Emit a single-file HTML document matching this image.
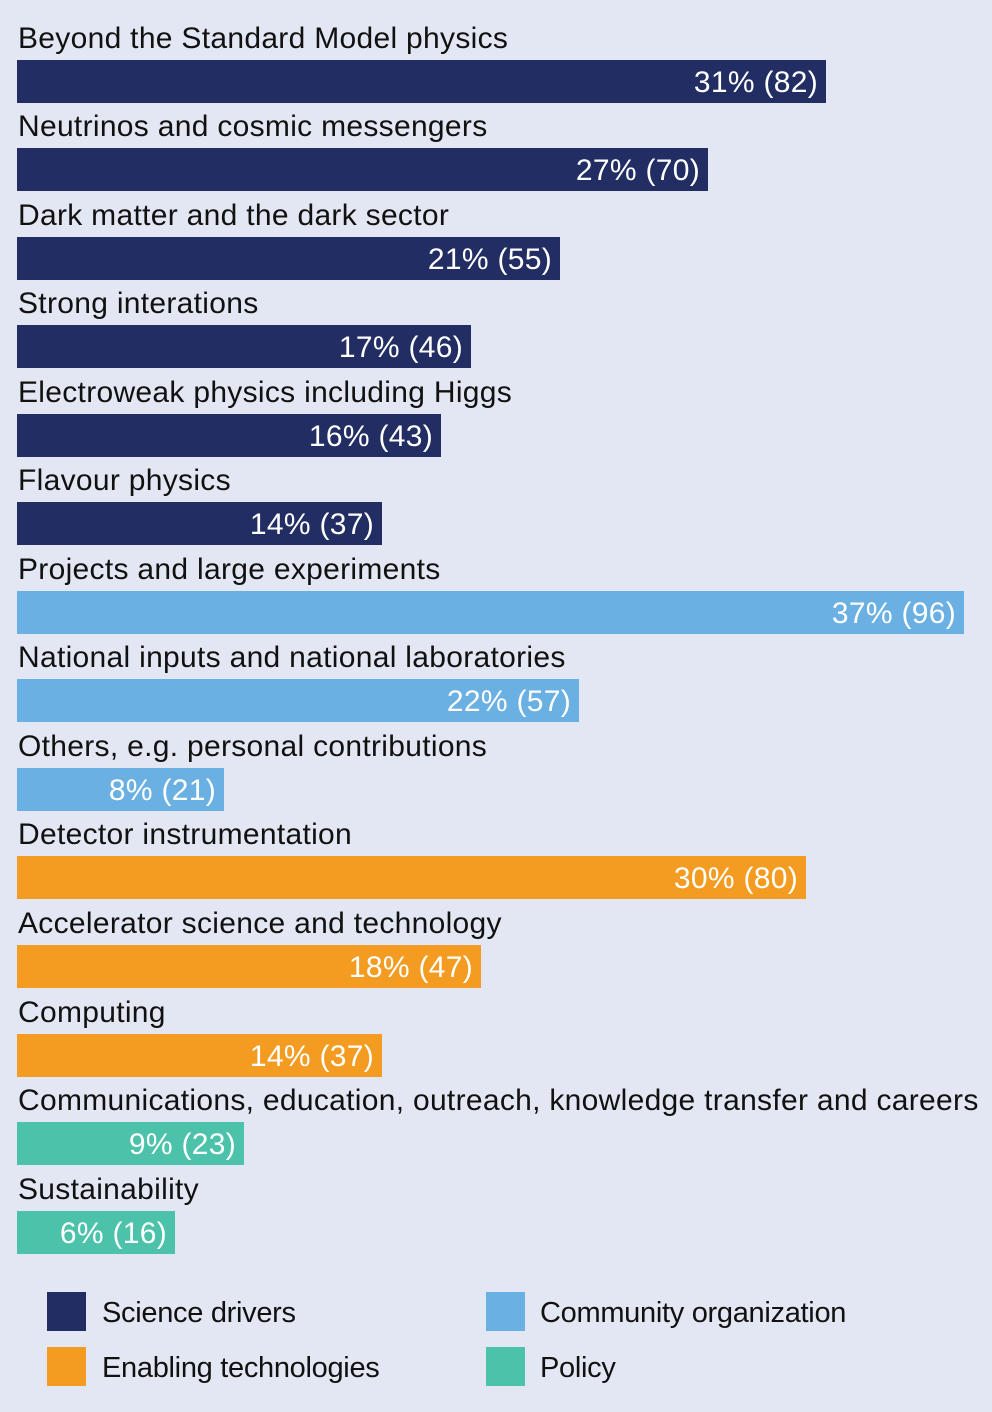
<!DOCTYPE html>
<html><head><style>
html,body{margin:0;padding:0}
body{width:992px;height:1412px;background:#e3e7f3;position:relative;font-family:"Liberation Sans",Arial,sans-serif;overflow:hidden}
.l{position:absolute;left:18px;font-size:30px;color:#111;line-height:1;white-space:nowrap;letter-spacing:0.3px}
.b{position:absolute;left:17px;height:43px;color:#fff;font-size:30px;line-height:45px;text-align:right;box-sizing:border-box;padding-right:8px;white-space:nowrap;letter-spacing:0.3px}
.n{background:#222d63}.c{background:#6ab0e3}.o{background:#f39c21}.t{background:#4cc2aa}
.sq{position:absolute;width:39px;height:39px}
.lg{position:absolute;font-size:29px;color:#111;line-height:1;white-space:nowrap;letter-spacing:-0.3px}
</style></head><body>
<div class="l" style="top:24px">Beyond the Standard Model physics</div>
<div class="b n" style="top:60px;width:809px">31% (82)</div>
<div class="l" style="top:112px">Neutrinos and cosmic messengers</div>
<div class="b n" style="top:148px;width:691px">27% (70)</div>
<div class="l" style="top:201px">Dark matter and the dark sector</div>
<div class="b n" style="top:237px;width:543px">21% (55)</div>
<div class="l" style="top:289px">Strong interations</div>
<div class="b n" style="top:325px;width:454px">17% (46)</div>
<div class="l" style="top:378px">Electroweak physics including Higgs</div>
<div class="b n" style="top:414px;width:424px">16% (43)</div>
<div class="l" style="top:466px">Flavour physics</div>
<div class="b n" style="top:502px;width:365px">14% (37)</div>
<div class="l" style="top:555px">Projects and large experiments</div>
<div class="b c" style="top:591px;width:947px">37% (96)</div>
<div class="l" style="top:643px">National inputs and national laboratories</div>
<div class="b c" style="top:679px;width:562px">22% (57)</div>
<div class="l" style="top:732px">Others, e.g. personal contributions</div>
<div class="b c" style="top:768px;width:207px">8% (21)</div>
<div class="l" style="top:820px">Detector instrumentation</div>
<div class="b o" style="top:856px;width:789px">30% (80)</div>
<div class="l" style="top:909px">Accelerator science and technology</div>
<div class="b o" style="top:945px;width:464px">18% (47)</div>
<div class="l" style="top:998px">Computing</div>
<div class="b o" style="top:1034px;width:365px">14% (37)</div>
<div class="l" style="top:1086px">Communications, education, outreach, knowledge transfer and careers</div>
<div class="b t" style="top:1122px;width:227px">9% (23)</div>
<div class="l" style="top:1175px">Sustainability</div>
<div class="b t" style="top:1211px;width:158px">6% (16)</div>
<div class="sq n" style="left:47px;top:1292px"></div>
<div class="lg" style="left:102px;top:1299px">Science drivers</div>
<div class="sq o" style="left:47px;top:1347px"></div>
<div class="lg" style="left:102px;top:1354px">Enabling technologies</div>
<div class="sq c" style="left:486px;top:1292px"></div>
<div class="lg" style="left:540px;top:1299px">Community organization</div>
<div class="sq t" style="left:486px;top:1347px"></div>
<div class="lg" style="left:540px;top:1354px">Policy</div>
</body></html>
